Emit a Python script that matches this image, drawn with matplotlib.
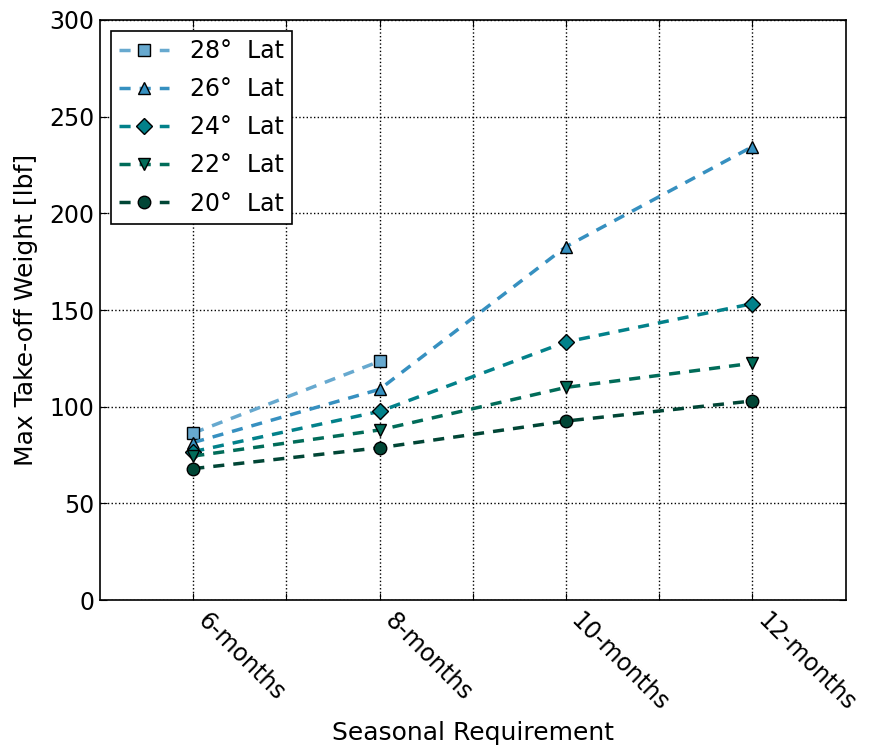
import matplotlib
matplotlib.use("Agg")
import matplotlib.pyplot as plt

months = [6, 8, 10, 12]
month_labels = ["6-months", "8-months", "10-months", "12-months"]

lat_names = ["28°  Lat", "26°  Lat", "24°  Lat", "22°  Lat", "20°  Lat"]
w28 = [86.4, 123.5]
w26 = [81.5, 109, 182.8, 234.5]
w24 = [76.8, 97.6, 133.5, 153.3]
w22 = [74.5, 88, 110, 122.5]
w20 = [68, 78.8, 92.6, 103]
series = [w28, w26, w24, w22, w20]

colors = ["#67a9cf", "#3690c0", "#02818a", "#016c59", "#014636"]
markers = ["s", "^", "D", "v", "o"]

fig = plt.figure(figsize=(8.7, 7.53), dpi=100)
ax = fig.add_axes([0.115, 0.203, 0.857, 0.7705])

for name, vals, c, m in zip(lat_names, series, colors, markers):
    ax.plot(months[:len(vals)], vals, linestyle="--", dashes=(3.2, 2.6), linewidth=2.5,
            color=c, marker=m, markersize=9 if m != "D" else 8.5,
            markerfacecolor=c, markeredgecolor="black", markeredgewidth=1,
            label=name)

ax.set_xlim(5, 13)
ax.set_ylim(0, 300)
ax.set_xticks(range(6, 13))
ax.set_xticklabels([month_labels[months.index(t)] if t in months else "" for t in range(6, 13)],
                   rotation=-45, ha="left", va="top", fontsize=17)
ax.set_yticks(range(0, 301, 50))
ax.tick_params(axis="both", direction="in", top=True, right=True, labelsize=17, length=5, pad=4)
ax.tick_params(axis="x", pad=6)
ax.grid(True, linestyle=":", color="black", linewidth=1)
for s in ax.spines.values():
    s.set_linewidth(1.2)

ax.set_xlabel("Seasonal Requirement", fontsize=18)
ax.set_ylabel("Max Take-off Weight [lbf]", fontsize=18, labelpad=8)

leg = ax.legend(loc="upper left", numpoints=1, fontsize=17, fancybox=False,
                edgecolor="black", framealpha=1, handlelength=2.1, borderaxespad=0.45,
                labelspacing=0.6, handletextpad=0.9, borderpad=0.35)
leg.get_frame().set_linewidth(1.2)

fig.savefig("out.png", dpi=100)
